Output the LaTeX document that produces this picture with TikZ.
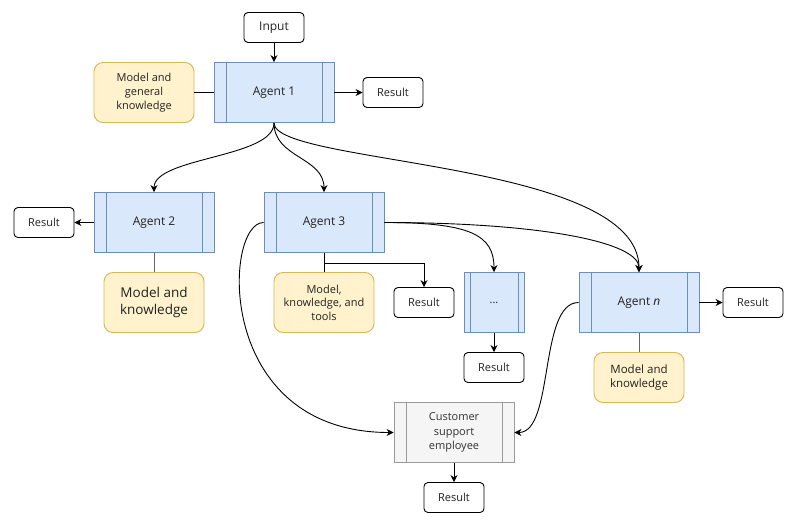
\documentclass[tikz,border=0pt]{standalone}
\usepackage{fontspec}
\setmainfont{Open Sans}
\usetikzlibrary{arrows.meta}
\definecolor{blueF}{HTML}{DAE8FC}
\definecolor{blueS}{HTML}{6C8EBF}
\definecolor{yelF}{HTML}{FFF2CC}
\definecolor{yelS}{HTML}{D6B656}
\definecolor{grayF}{HTML}{F5F5F5}
\definecolor{grayS}{HTML}{9A9A9A}
\definecolor{txt}{HTML}{222222}
\definecolor{gtxt}{HTML}{333333}
\tikzset{
  base/.style={inner sep=0pt, align=center, text=txt, line width=0.9pt},
  resbox/.style={base, draw=black, fill=white, rounded corners=4pt, minimum width=60pt, minimum height=30pt, font=\fontsize{11}{13}\selectfont},
  know/.style={base, draw=yelS, fill=yelF, rounded corners=9pt, minimum width=100pt, minimum height=60pt, font=\fontsize{11}{14}\selectfont},
  proc/.style={base, draw=#1S, fill=#1F, minimum width=120pt, minimum height=60pt, font=\fontsize{12}{14.5}\selectfont,
    path picture={\draw[#1S, line width=0.9pt] ([xshift=12pt]path picture bounding box.north west) -- ([xshift=12pt]path picture bounding box.south west);
                  \draw[#1S, line width=0.9pt] ([xshift=-12pt]path picture bounding box.north east) -- ([xshift=-12pt]path picture bounding box.south east);}},
  narrowproc/.style={base, draw=blueS, fill=blueF, minimum width=60pt, minimum height=60pt, font=\fontsize{11}{14}\selectfont,
    path picture={\draw[blueS, line width=0.9pt] ([xshift=6pt]path picture bounding box.north west) -- ([xshift=6pt]path picture bounding box.south west);
                  \draw[blueS, line width=0.9pt] ([xshift=-6pt]path picture bounding box.north east) -- ([xshift=-6pt]path picture bounding box.south east);}},
  arr/.style={-{Stealth[length=7pt,width=7pt]}, line width=0.9pt},
  link/.style={line width=0.9pt},
}
\begin{document}
\begin{tikzpicture}[x=1pt,y=-1pt]
\useasboundingbox (0,0) rectangle (792,523);
% nodes
\node[resbox, font=\fontsize{12}{14}\selectfont] (in) at (274,27.5) {Input};
\node[proc=blue] (a1) at (274,92.5) {Agent 1};
\node[know] (mg) at (144,92.5) {Model and\\general\\knowledge};
\node[resbox] (r1) at (393,92.5) {Result};
\node[proc=blue] (a2) at (154,222.5) {Agent 2};
\node[resbox] (rl) at (44,222.5) {Result};
\node[know, font=\fontsize{13.5}{16.5}\selectfont] (m2) at (154,302.5) {Model and\\knowledge};
\node[proc=blue] (a3) at (324,222.5) {Agent 3};
\node[know, font=\fontsize{11}{13.5}\selectfont] (m3) at (324,302.5) {Model,\\knowledge, and\\tools};
\node[resbox] (r3) at (424,302.5) {Result};
\node[narrowproc] (dt) at (494,302.5) {...};
\node[resbox] (rd) at (494,367.5) {Result};
\node[proc=blue] (an) at (639,302.5) {Agent \textit{n}};
\node[resbox] (rn) at (753,302.5) {Result};
\node[know, minimum width=90pt, minimum height=50pt, font=\fontsize{11.5}{14.5}\selectfont] (mn) at (639,377.5) {Model and\\knowledge};
\node[proc=gray, text=gtxt, font=\fontsize{11}{14.5}\selectfont] (cs) at (454,432.5) {Customer\\support\\employee};
\node[resbox] (rb) at (454,497.5) {Result};
% connectors
\draw[arr] (in) -- (a1);
\draw[link] (mg) -- (a1);
\draw[arr] (a1) -- (r1);
\draw[arr] (a1.south) .. controls +(0,35) and +(0,-35) .. (a2.north);
\draw[arr] (a1.south) .. controls +(0,35) and +(0,-35) .. (a3.north);
\draw[arr] (a1.south) .. controls +(0,42) and +(0,-112) .. (an.north);
\draw[arr] (a2) -- (rl);
\draw[link, draw=gray!80!black] (a2) -- (m2);
\draw[link] (a3) -- (m3);
\draw[arr] (a3.south) -- ++(0,10) -| (r3.north);
\draw[arr] (a3.east) .. controls +(86,0) and +(0,-37) .. (dt.north);
\draw[arr] (a3.east) .. controls +(156,0) and +(0,-30) .. (an.north);
\draw[arr] (a3.west) .. controls +(-40,0) and +(-180,0) .. (cs.west);
\draw[arr] (dt) -- (rd);
\draw[arr] (an) -- (rn);
\draw[link, draw=gray!80!black] (an) -- (mn);
\draw[arr] (an.west) .. controls +(-40,0) and +(40,0) .. (cs.east);
\draw[arr] (cs) -- (rb);
\end{tikzpicture}
\end{document}
